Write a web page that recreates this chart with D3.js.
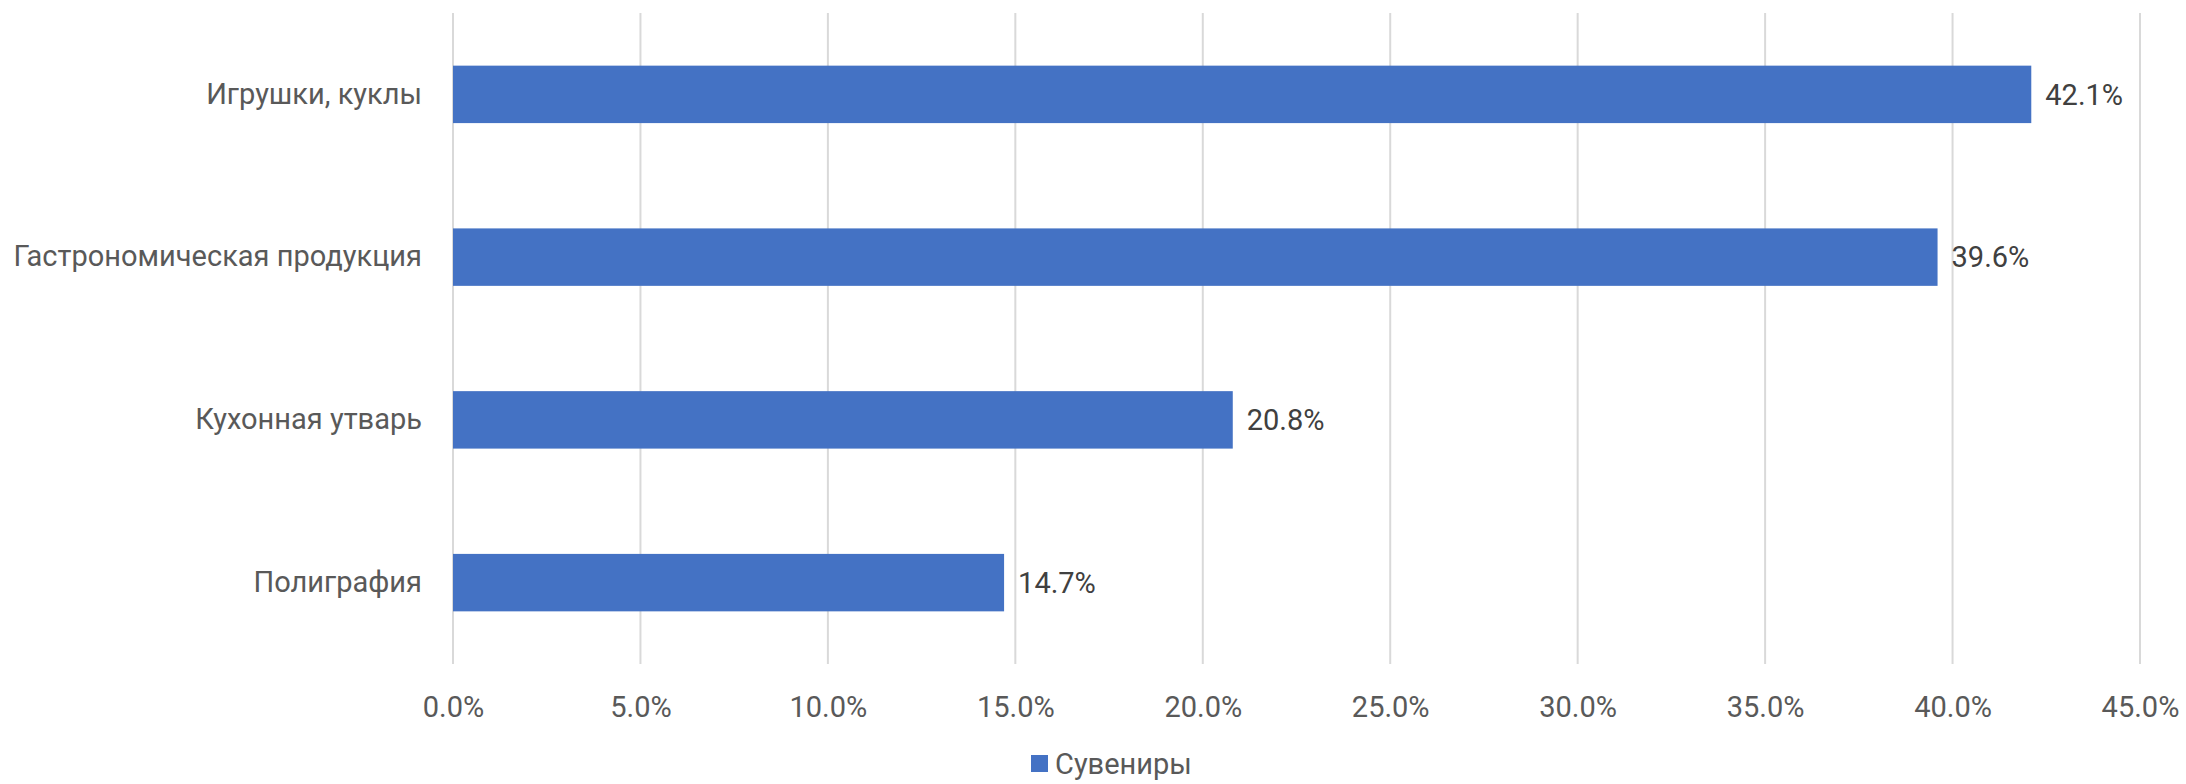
<!DOCTYPE html>
<html><head><meta charset="utf-8">
<script src="https://cdn.jsdelivr.net/npm/d3@7/dist/d3.min.js"></script>
<style>html,body{margin:0;padding:0;background:#fff;}svg{display:block;}</style>
</head><body>
<svg id="chart" width="2186" height="784"></svg>
<script>
const categories = ["Игрушки, куклы", "Гастрономическая продукция", "Кухонная утварь", "Полиграфия"];
const values = [42.1, 39.6, 20.8, 14.7];
const tickValues = [0, 5, 10, 15, 20, 25, 30, 35, 40, 45];
const seriesName = "Сувениры";

const svg = d3.select("#chart");
const font = "Roboto, 'Open Sans', sans-serif";
const fs = 29;
const plotLeft = 453, plotRight = 2140, plotTop = 13, plotBottom = 664;

const x = d3.scaleLinear().domain([0, 45]).range([plotLeft, plotRight]);
const y = d3.scaleBand().domain(categories).range([plotTop, plotBottom]).paddingInner(0.647).paddingOuter(0.3235);

// gridlines
svg.append("g").selectAll("line").data(tickValues).join("line")
  .attr("x1", d => x(d)).attr("x2", d => x(d))
  .attr("y1", plotTop).attr("y2", plotBottom)
  .attr("stroke", "#d9d9d9").attr("stroke-width", 2);

// x axis labels
const xAxis = d3.axisBottom(x).tickValues(tickValues).tickSize(0).tickPadding(0)
  .tickFormat(d => d.toFixed(1) + "%");
const gx = svg.append("g").attr("transform", `translate(0,${plotBottom})`).call(xAxis);
gx.select(".domain").remove();
gx.selectAll("text").attr("y", 43).attr("dy", "0.35em")
  .attr("font-family", font).attr("font-size", fs).attr("fill", "#595959");

// y axis labels
const yAxis = d3.axisLeft(y).tickSize(0).tickPadding(31);
const gy = svg.append("g").attr("transform", `translate(${plotLeft},0)`).call(yAxis);
gy.select(".domain").remove();
gy.selectAll("text").attr("font-family", font).attr("font-size", fs).attr("fill", "#595959");

// bars
svg.append("g").selectAll("rect").data(categories).join("rect")
  .attr("x", x(0)).attr("y", d => y(d))
  .attr("width", (d, i) => x(values[i]) - x(0))
  .attr("height", y.bandwidth())
  .attr("fill", "#4472c4");

// value labels
svg.append("g").selectAll("text").data(categories).join("text")
  .attr("x", (d, i) => x(values[i]) + 14)
  .attr("y", d => y(d) + y.bandwidth() / 2)
  .attr("dy", "0.35em")
  .attr("font-family", font).attr("font-size", fs).attr("fill", "#404040")
  .text((d, i) => values[i].toFixed(1) + "%");

// legend
const lg = svg.append("g").attr("transform", "translate(1031,755)");
lg.append("rect").attr("width", 17).attr("height", 17).attr("fill", "#4472c4");
lg.append("text").attr("x", 24).attr("y", 8.5).attr("dy", "0.35em")
  .attr("font-family", font).attr("font-size", fs).attr("fill", "#595959").text(seriesName);
</script>
</body></html>
